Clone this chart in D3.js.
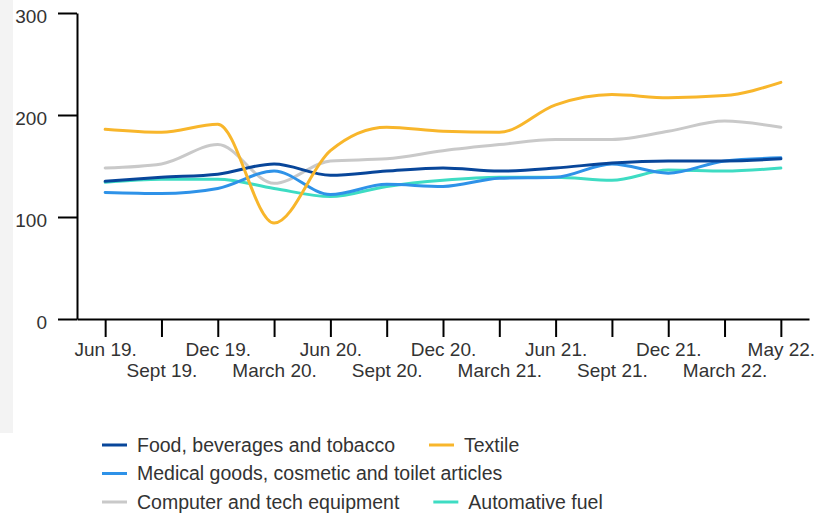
<!DOCTYPE html>
<html>
<head>
<meta charset="utf-8">
<script src="https://cdn.jsdelivr.net/npm/d3@7"></script>
<style>
  html, body { margin: 0; padding: 0; background: #fff; }
  svg { display: block; font-family: "Liberation Sans", Arial, sans-serif; }
</style>
</head>
<body>
<svg id="chart" width="819" height="514"></svg>
<script>
// Quarterly index values per retail category
const periods = ["Jun 19.", "Sept 19.", "Dec 19.", "March 20.", "Jun 20.", "Sept 20.", "Dec 20.",
                 "March 21.", "Jun 21.", "Sept 21.", "Dec 21.", "March 22.", "May 22."];
const food     = [135, 139, 142, 152, 141, 145, 148, 145, 148, 153, 155, 155, 157];
const textile  = [186, 183, 191, 94, 165, 188, 184, 183, 210, 220, 217, 219, 232];
const medical  = [124, 123, 128, 145, 122, 132, 130, 138, 139, 152, 143, 155, 158];
const computer = [148, 152, 171, 133, 155, 157, 165, 171, 176, 176, 184, 194, 188];
const fuel     = [134, 137, 137, 128, 120, 130, 136, 139, 139, 136, 146, 145, 148];
const yTicks   = [0, 100, 200, 300];

const seriesNames  = ["Food, beverages and tobacco", "Textile", "Medical goods, cosmetic and toilet articles",
                      "Computer and tech equipment", "Automative fuel"];
const seriesValues = [food, textile, medical, computer, fuel];
const seriesColors = ["#08469a", "#f8b62b", "#2e92e8", "#c9c9c9", "#3edcc3"];

const svg = d3.select("#chart");

// light side panel
svg.append("rect").attr("x", 0).attr("y", 0).attr("width", 13).attr("height", 433).attr("fill", "#f3f3f3");

const x = d3.scalePoint().domain(periods).range([77, 809]).padding(0.5);
const y = d3.scaleLinear().domain([0, 300]).range([319, 13]);

const textColor = "#333";
const fontSize = 19;

// Lines first, axes drawn over
const line = d3.line()
  .x((d, i) => x(periods[i]))
  .y(d => y(d))
  .curve(d3.curveMonotoneX);

const drawOrder = [3, 4, 2, 0, 1];
drawOrder.forEach(k => {
  svg.append("path")
    .datum(seriesValues[k])
    .attr("fill", "none")
    .attr("stroke", seriesColors[k])
    .attr("stroke-width", 3)
    .attr("stroke-linejoin", "round")
    .attr("stroke-linecap", "round")
    .attr("d", line);
});

// Y axis
const yAxis = svg.append("g")
  .attr("transform", "translate(77,0)")
  .call(d3.axisLeft(y).tickValues(yTicks).tickSize(19).tickSizeOuter(0).tickPadding(11));
yAxis.selectAll("path, line").attr("stroke", "#000").attr("stroke-width", 2);
yAxis.selectAll("text")
  .attr("fill", textColor)
  .attr("font-size", fontSize)
  .attr("font-family", "Liberation Sans, Arial, sans-serif")
  .attr("dy", "0.52em");

// X axis
const xAxis = svg.append("g")
  .attr("transform", "translate(0,319)")
  .call(d3.axisBottom(x).tickSize(18).tickSizeOuter(0).tickPadding(4));
xAxis.selectAll("path, line").attr("stroke", "#000").attr("stroke-width", 2);
xAxis.selectAll("text")
  .attr("fill", textColor)
  .attr("font-size", fontSize)
  .attr("font-family", "Liberation Sans, Arial, sans-serif")
  .attr("y", (d, i) => i % 2 === 0 ? 37 : 58)
  .attr("dy", 0);

// Legend, laid out as wrapping rows
const legend = svg.append("g");
const legendLeft = 102, legendMaxX = 615, rowY0 = 445, rowStep = 28.5;
let cx = legendLeft, row = 0;
seriesNames.forEach((name, k) => {
  const g = legend.append("g");
  const t = g.append("text")
    .attr("x", 35)
    .attr("dy", "0.35em")
    .attr("fill", textColor)
    .attr("font-size", 19.5)
    .text(name);
  const w = 35 + t.node().getComputedTextLength();
  if (cx > legendLeft && cx + w > legendMaxX) { row += 1; cx = legendLeft; }
  g.append("line")
    .attr("x1", 0).attr("x2", 25)
    .attr("stroke", seriesColors[k]).attr("stroke-width", 3);
  g.attr("transform", `translate(${cx},${rowY0 + row * rowStep})`);
  cx += w + 34;
});
</script>
</body>
</html>
